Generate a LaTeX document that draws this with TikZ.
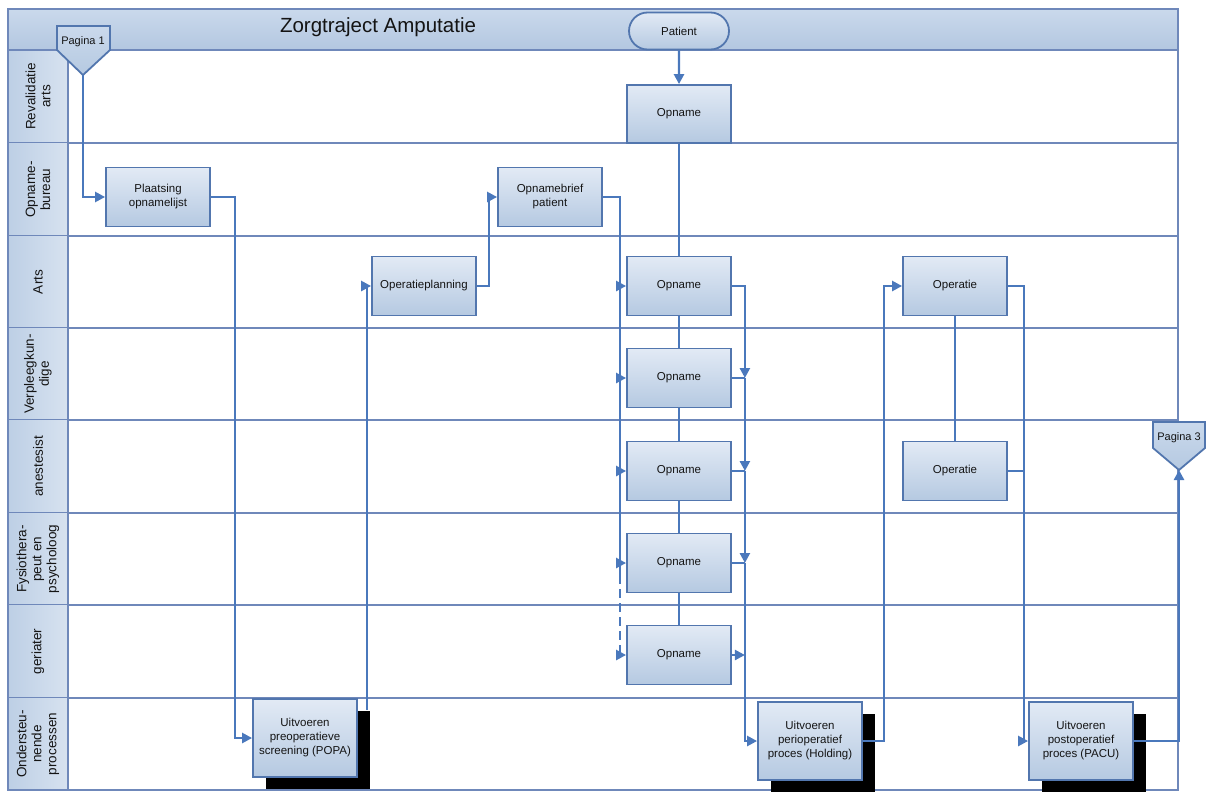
\documentclass[tikz,border=0pt]{standalone}
\usepackage{fontspec}
\setmainfont{Liberation Sans}
\usepackage{tikz}
\usetikzlibrary{arrows.meta,positioning,shapes.geometric,shapes.misc,calc,shadows}
\definecolor{cline}{HTML}{4A78BC}
\definecolor{cedge}{HTML}{5276AE}
\definecolor{csep}{HTML}{6F88BA}
\definecolor{cboxA}{HTML}{E2EAF5}
\definecolor{cboxB}{HTML}{B5C9E1}
\definecolor{cheadA}{HTML}{CAD9EC}
\definecolor{cheadB}{HTML}{B3C7E0}
\definecolor{claneA}{HTML}{BDCFE5}
\definecolor{claneB}{HTML}{D7E2F0}
\definecolor{ctext}{HTML}{141414}
\tikzset{
  act/.style={draw=cedge, line width=1.8pt, top color=cboxA, bottom color=cboxB,
    minimum width=104pt, minimum height=59pt, inner sep=2pt, align=center,
    text=ctext, font=\fontsize{11.5}{14}\selectfont},
  sub/.style={act, minimum height=78pt,
    drop shadow={shadow xshift=13pt, shadow yshift=-12pt, fill=black, opacity=1}},
  term/.style={act, rounded rectangle, minimum width=104pt, minimum height=37pt},
  lanelbl/.style={rotate=90, align=center, text=ctext, font=\fontsize{13.5}{15}\selectfont},
  ttl/.style={text=ctext, font=\fontsize{20.5}{22}\selectfont},
  ptxt/.style={text=ctext, font=\fontsize{11}{12}\selectfont},
  offp/.style={draw=cedge, line width=1.8pt, top color=cheadA, bottom color=cboxB},
  flow/.style={draw=cline, line width=2.4pt, -{Triangle[length=10pt,width=10pt]}},
  link/.style={draw=cline, line width=2.4pt},
  sep/.style={draw=csep, line width=1.4pt},
  frame/.style={draw=csep, line width=1.8pt},
}
\begin{document}
\begin{tikzpicture}[x=1pt,y=-1pt]
\useasboundingbox (0,0) rectangle (1206,792);
% header band and swimlanes
\shade[top color=cheadA, bottom color=cheadB] (8,9) rectangle (1178,50);
\foreach \ya/\yb/\t [count=\i] in {
  50/143/{Revalidatie\\arts},
  143/236/{Opname-\\bureau},
  236/328/{Arts},
  328/420/{Verpleegkun-\\dige},
  420/513/{anestesist},
  513/605/{Fysiothera-\\peut en\\psycholoog},
  605/698/{geriater},
  698/790/{Ondersteu-\\nende\\processen}}{
  \shade[left color=claneA, right color=claneB] (8,\ya) rectangle (68,\yb);
  \node[lanelbl] (lane\i) at (38,{(\ya+\yb)/2}) {\t};
  \draw[sep] (8,\yb) -- (1178,\yb);
}
\draw[frame] (8,9) rectangle (1178,790);
\draw[frame] (8,50) -- (1178,50);
\draw[frame] (68,50) -- (68,790);
\node[ttl] (title) at (378,27) {Zorgtraject Amputatie};

% off-page connectors
\draw[offp] (57,26) -- (110,26) -- (110,50) -- (83,75) -- (57,50) -- cycle;
\node[ptxt] (pag1) at (83,42) {Pagina 1};
\coordinate (pag1tip) at (83,75);
\draw[offp] (1153,422) -- (1205,422) -- (1205,448) -- (1179,470) -- (1153,448) -- cycle;
\node[ptxt] (pag3) at (1179,438) {Pagina 3};
\coordinate (pag3tip) at (1179,470);

% activities
\node[term] (patient) at (679,31) {Patient};
\node[act] (plaats) at (158,197) {Plaatsing\\opnamelijst};
\node[act] (oplan) at (424,286) {Operatieplanning};
\node[act] (obrief) at (550,197) {Opnamebrief\\patient};
\node[act, minimum height=58pt] (opRev) at (679,114) {Opname};
\node[act] (opArts) at (679,286) {Opname};
\node[act] (opVpk) at (679,378) {Opname};
\node[act] (opAnes) at (679,471) {Opname};
\node[act] (opFys) at (679,563) {Opname};
\node[act] (opGer) at (679,655) {Opname};
\node[act] (operArts) at (955,286) {Operatie};
\node[act] (operAnes) at (955,471) {Operatie};
\node[sub] (popa) at (305,738) {Uitvoeren\\preoperatieve\\screening (POPA)};
\node[sub] (hold) at (810,741) {Uitvoeren\\perioperatief\\proces (Holding)};
\node[sub] (pacu) at (1081,741) {Uitvoeren\\postoperatief\\proces (PACU)};

% flows
\draw[flow] (pag1tip) |- (plaats.west);
\draw[flow] (plaats.east) -- ++(24,0) |- (popa.west);
\draw[flow] ($(popa.north east)+(9,12)$) |- (oplan.west);
\draw[flow] (oplan.east) -- ++(12,0) |- (obrief.west);

\coordinate (busL) at ($(obrief.east)+(17,0)$);
\coordinate (dashTop) at ($(busL |- opFys.west)+(0,12)$);
\coordinate (dashBot) at ($(busL |- opGer.west)+(0,-10)$);
\draw[link] (obrief.east) -- (busL) -- (dashTop);
\draw[link, dash pattern=on 9pt off 5pt] (dashTop) -- (dashBot);
\draw[link] (dashBot) -- (busL |- opGer.west);
\foreach \n in {opArts,opVpk,opAnes,opFys,opGer}
  \draw[flow] (busL |- \n.west) -- (\n.west);

\draw[flow] (patient) -- (opRev);
\foreach \a/\b in {opRev/opArts,opArts/opVpk,opVpk/opAnes,opAnes/opFys,opFys/opGer}
  \draw[link] (\a) -- (\b);

\coordinate (busR) at ($(opArts.east)+(13,0)$);
\draw[flow] (opArts.east) -- (busR) -- (busR |- opVpk.east);
\draw[flow] (busR |- opVpk.east) -- (busR |- opAnes.east);
\draw[flow] (busR |- opAnes.east) -- (busR |- opFys.east);
\foreach \n in {opVpk,opAnes,opFys}
  \draw[link] (\n.east) -- (busR |- \n.east);
\draw[flow] (opGer.east) -- (busR |- opGer.east);
\draw[flow] (busR |- opFys.east) |- (hold.west);

\draw[flow] (hold.east) -- ++(21,0) |- (operArts.west);
\draw[link] (operArts) -- (operAnes);
\coordinate (busP) at ($(operArts.east)+(16,0)$);
\draw[flow] (operArts.east) -- (busP) |- (pacu.west);
\draw[link] (operAnes.east) -- (busP |- operAnes.east);
\draw[flow] (pacu.east) -| (pag3tip);
\end{tikzpicture}
\end{document}
